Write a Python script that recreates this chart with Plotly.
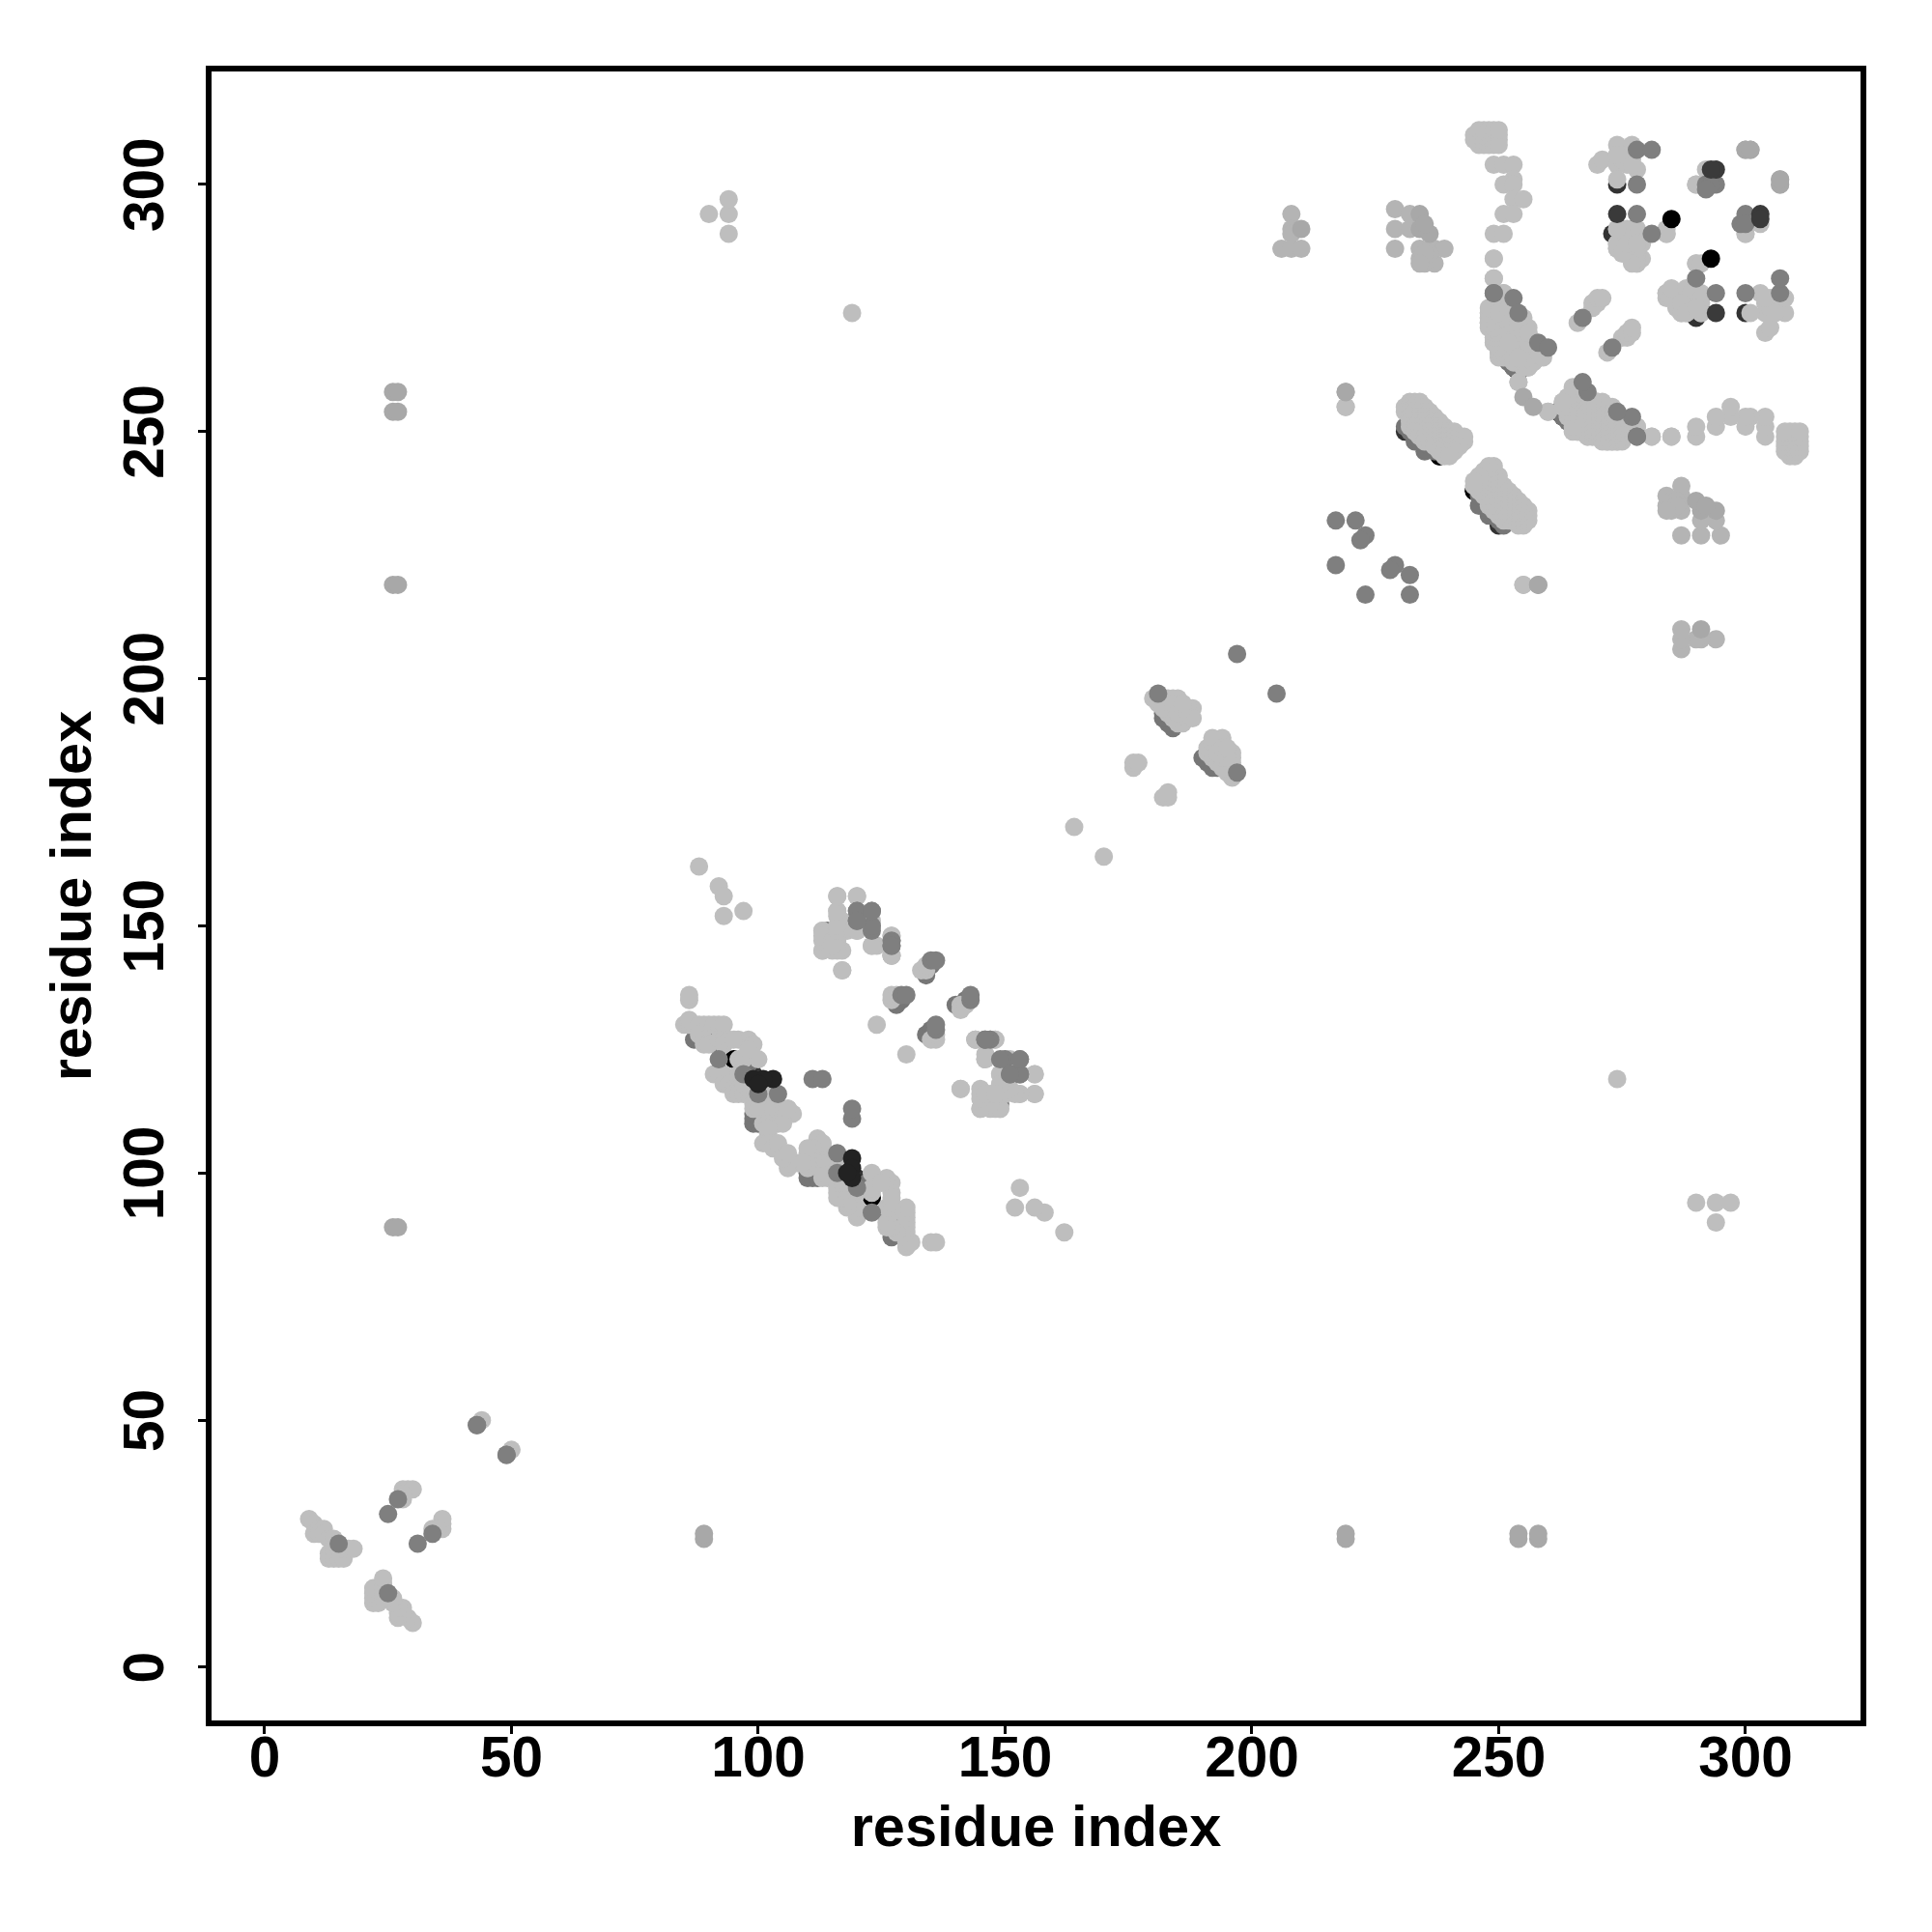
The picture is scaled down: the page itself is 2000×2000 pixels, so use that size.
import plotly.graph_objects as go

tick_values = [0, 50, 100, 150, 200, 250, 300]
axis_label = "residue index"

# residue contacts (i, j); the map is symmetric so each one is drawn at (i,j) and (j,i)
under_black = [(95,123),(98,119),(102,114),(238,245),(245,238)]
under_dark = [(274,300),(274,290),(273,290),(290,274),(253,263),(254,262),(262,254),(99,120),(231,250)]
under_mid = [(87,127),(91,128),(92,126),(98,122),(99,110),(100,110),(103,111),(104,112),(98,123),
             (88,127),(90,128),(99,111),(99,112),
             (183,191),(183,192),(183,194),(184,190),(182,192),(182,193),(196,181),
             (231,251),(233,248),(235,246),(236,247),(237,246),(233,249),(234,248),(232,250),
             (252,264),(253,265),(255,263),(258,265),(277,287),(286,277),(287,276),(263,253),(264,253),
             (128,134),(128,135),(129,135),(134,140),(135,142),(114,149),(127,147)]
light = [(9,30),(10,29),(10,27),(11,28),(11,27),(12,28),(12,27),(13,26),(14,26),(13,23),(13,22),(14,22),(15,22),(16,22),
         (14,24),(15,24),(16,24),(17,24),(18,24),(28,36),(29,36),(30,36),(28,34),(28,35),(44,50),
         (88,162),(92,158),(93,156),(97,153),(93,152),(94,294),(94,297),(94,290),(90,294),(119,274),
         (85,130),(86,130),(86,131),(86,135),(86,136),(88,130),(89,130),(90,130),(91,130),(92,130),(93,130),
         (88,128),(89,127),(89,126),(90,126),(92,127),(93,127),(93,126),(94,127),(96,127),(98,127),(99,126),
         (96,123),(97,123),(100,123),(98,125),
         (91,120),(92,120),(93,120),(94,119),(96,120),(95,127),(93,118),(94,118),
         (95,117),(96,117),(99,117),(95,116),(96,116),(97,116),(98,116),(102,116),(97,118),(98,117),(98,118),(100,117),(101,117),(100,115),
         (99,114),(100,114),(99,113),(100,113),(103,113),(105,113),(103,112),(105,112),(106,112),(107,112),(106,113),
         (103,111),(105,111),(101,110),(102,110),(103,110),(104,110),(105,110),(102,108),(102,109),
         (101,106),(102,106),(103,105),(104,106),(113,106),
         (116,156),(120,156),(116,153),(116,152),(113,149),(116,149),(117,149),(120,149),(114,147),(116,147),(113,145),(115,145),(117,145),(116,146),
         (117,151),(118,149),(123,151),(123,146),(127,148),(127,144),(117,141),(124,146),
         (134,141),(127,135),(127,136),(128,136),(124,130),(133,141),(134,142),(144,127),(146,123),(148,127),(127,144),(141,117),
         (116,148),(145,116),(145,113),(147,113),(149,113),(148,113),(147,115),(146,115),(149,116),(150,116),(153,116),(156,116),(156,120),(149,120),(150,123),
         (164,170),(176,182),(176,183),(177,183),
         (180,196),(183,196),(184,196),(185,196),(188,194),(181,195),(182,195),(183,194),(184,193),(185,192),(186,193),(187,194),(184,192),
         (183,193),(185,194),(186,192),(185,191),(186,191),(187,192),(188,192),(182,194),(184,194),(184,195),(185,193),(186,194),(186,195),
         (219,255),(255,219),
         (232,256),(233,256),(234,256),(231,255),(232,255),(233,255),(234,255),(235,255),
         (231,254),(232,254),(233,254),(234,254),(235,254),(236,254),(232,253),(233,253),(234,253),(235,253),(236,253),(237,253),
         (232,252),(233,252),(234,252),(235,252),(236,252),(237,252),(238,252),(232,251),(233,251),(234,251),(235,251),(236,251),(237,251),(238,251),(239,251),
         (233,250),(234,250),(235,250),(236,250),(237,250),(238,250),(239,250),(240,250),(241,250),
         (234,249),(235,249),(236,249),(237,249),(238,249),(239,249),(240,249),(241,249),(242,249),(243,249),
         (235,248),(236,248),(237,248),(238,248),(239,248),(240,248),(241,248),(242,248),(243,248),
         (237,247),(238,247),(239,247),(240,247),(241,247),(242,247),(238,246),(239,246),(240,246),(241,246),(239,245),(240,245),
         (245,309),(245,310),(246,308),(246,309),(246,310),(246,311),(247,308),(247,309),(247,310),(247,311),(248,308),(248,309),(248,310),(248,311),
         (249,308),(249,309),(249,310),(249,311),(250,309),(250,310),(250,308),(250,311),
         (249,304),(251,304),(253,304),(253,301),(251,300),(253,300),(253,297),(255,297),(251,294),(253,294),(249,290),(251,290),(249,285),(249,281),
         (251,278),(254,260),(260,254),(278,251),(281,249),(285,249),
         (250,276),(251,276),(252,276),(249,275),(250,275),(251,275),(252,275),
         (248,274),(249,274),(250,274),(251,274),(252,274),(253,274),(248,273),(249,273),(250,273),(251,273),(252,273),(253,273),(254,273),(255,273),
         (248,272),(249,272),(250,272),(251,272),(252,272),(253,272),(254,272),(255,272),(248,271),(249,271),(250,271),(251,271),(252,271),(253,271),(254,271),(255,271),(256,271),
         (249,270),(250,270),(251,270),(252,270),(253,270),(254,270),(255,270),(256,270),(249,269),(250,269),(251,269),(252,269),(253,269),(254,269),(255,269),(256,269),
         (249,268),(250,268),(251,268),(252,268),(253,268),(254,268),(255,268),(256,268),(257,268),
         (250,267),(251,267),(252,267),(253,267),(254,267),(255,267),(256,267),(257,267),(258,267),
         (250,266),(251,266),(252,266),(253,266),(254,266),(255,266),(256,266),(257,266),(258,266),(259,266),
         (250,265),(251,265),(254,265),(255,265),(256,265),(257,265),(253,264),(254,264),(255,264),(256,264),(257,264),(255,263),(256,263),
         (263,255),(264,255),(263,256),(264,257),(265,259),(266,250),(266,251),(266,252),(267,250),(268,249),(269,249),(270,249),(270,250),(271,250),(271,249),
         (272,248),(273,248),(274,248),(275,248),(276,250),(276,251),(266,255),(267,256),(268,254),(269,253),(270,252),(272,252),(273,251),(274,250),(275,252),(265,256),
         (266,258),(268,256),(270,254),(272,254),(270,256),(268,252),(265,254),
         (266,272),(269,275),(269,276),(270,276),(270,277),(271,277),
         (274,308),(277,308),(270,304),(271,305),(274,304),(276,304),(278,303),(274,301),(275,306),(276,306),(275,305),(277,305),(277,304),(274,306),
         (284,290),(274,291),(274,287),(276,291),(278,291),(278,287),(278,284),(277,285),(279,285),(279,288),(276,289),(278,289),(277,291),(276,287),
         (274,288),(275,290),
         (290,300),(292,303),(300,290),(290,284),(284,278),(285,278),(286,278),(287,278),(284,277),(287,274),(288,274),(291,274),(286,275),(288,276),(288,278),
         (284,291)]
shade_b4 = [(208,294),(208,291),(208,290),(206,287),(208,287),(210,287),(229,295),(229,291),(229,287),(232,294),(232,291),
            (234,287),(236,287),(237,287),(239,287),(234,285),(235,284),(237,284),(236,285),(236,286),(235,286),(234,284)]
shade_a8 = [(210,291),(234,294),(234,291),(236,290),(235,292),(219,258),(255,257),(258,219),(300,307),(301,307),(307,300),(307,301),
            (26,89),(27,89),(26,219),(27,219),(26,254),(27,254),(26,258),(27,258)]
top_mid = [(15,25),(25,31),(27,34),(43,49),(49,43),(92,123),(111,119),(113,119),(100,116),(104,116),(97,120),
           (120,153),(120,151),(123,149),(127,146),(135,143),(136,143),(129,136),(130,136),(123,153),
           (147,127),(146,127),(150,123),(153,120),(151,120),(153,123),
           (181,197),(197,205),(217,232),(221,232),(223,229),(222,228),(217,223),
           (249,278),(253,277),(254,274),(258,268),(260,267),(267,273),(278,307),(281,307),(278,300),(278,294),(281,290),(278,249),
           (300,293),(299,292),(294,300),(292,300)]
top_dark = [(274,294),(294,303),(293,303),(100,119)]
top_near_black = [(103,119),(101,119),(99,119),(100,118)]
top_black = [(285,293)]

groups = [
    (under_black, "#000000"),
    (under_dark, "#333333"),
    (under_mid, "#767676"),
    (light, "#bebebe"),
    (shade_b4, "#b4b4b4"),
    (shade_a8, "#a8a8a8"),
    (top_mid, "#7f7f7f"),
    (top_dark, "#3a3a3a"),
    (top_near_black, "#222222"),
    (top_black, "#000000"),
]

fig = go.Figure()
for pairs, colour in groups:
    xs = [p[0] for p in pairs] + [p[1] for p in pairs]
    ys = [p[1] for p in pairs] + [p[0] for p in pairs]
    fig.add_trace(go.Scatter(x=xs, y=ys, mode="markers", showlegend=False,
                             marker=dict(size=19, color=colour, line=dict(width=0))))

tick_font = dict(family="Liberation Sans", size=58.5, color="black", weight="bold")
title_font = dict(family="Liberation Sans", size=59.5, color="black", weight="bold")
axis_style = dict(tickmode="array", tickvals=tick_values, ticktext=[str(v) for v in tick_values],
                  showgrid=False, zeroline=False, showline=True, mirror=True, linecolor="black", linewidth=6,
                  ticks="outside", ticklen=8, tickwidth=3, tickcolor="black", tickfont=tick_font)
fig.update_xaxes(range=[-10.76, 323.3], ticklabelstandoff=-26,
                 title=dict(text=axis_label, font=title_font, standoff=21), **axis_style)
fig.update_yaxes(range=[-10.75, 322.85], tickangle=-90, ticklabelstandoff=13, ticklabelshift=9,
                 title=dict(text=axis_label, font=title_font, standoff=4), **axis_style)
fig.update_layout(width=2000, height=2000, autosize=False, paper_bgcolor="white", plot_bgcolor="white",
                  margin=dict(l=211, r=82, t=66, b=227, autoexpand=False))
fig.write_html("out.html")
